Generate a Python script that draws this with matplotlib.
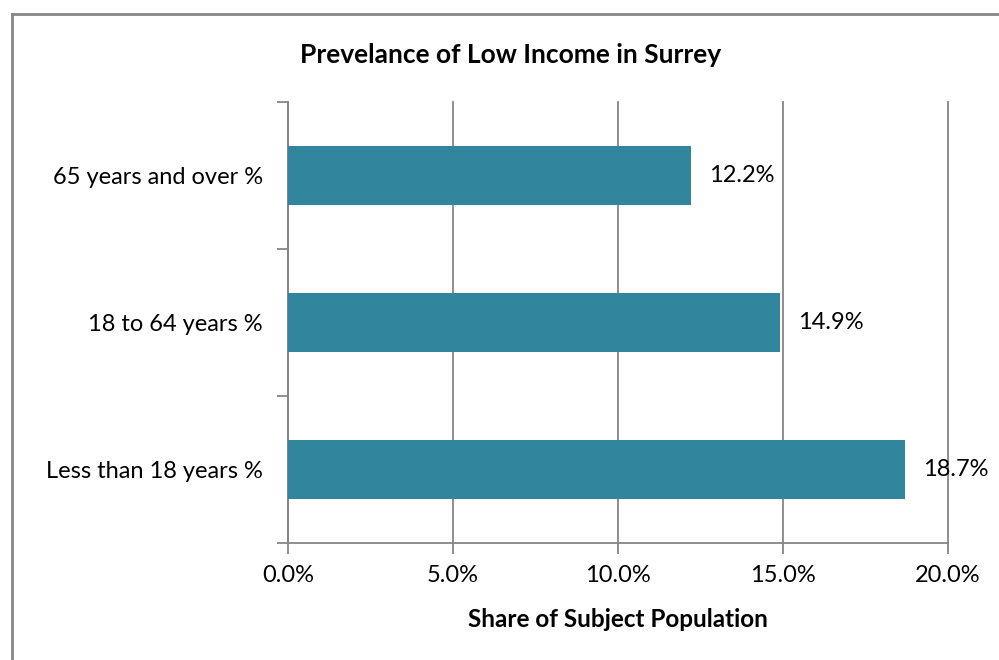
import matplotlib
matplotlib.use("Agg")
import matplotlib.pyplot as plt
from matplotlib.lines import Line2D
import numpy as np

categories = ["Less than 18 years %", "18 to 64 years %", "65 years and over %"]
values = [18.7, 14.9, 12.2]
xticks = [0, 5, 10, 15, 20]
xtick_labels = ["0.0%", "5.0%", "10.0%", "15.0%", "20.0%"]
title = "Prevelance of Low Income in Surrey"
xlabel = "Share of Subject Population"

plt.rcParams['font.family'] = ['Lato', 'DejaVu Sans']
W, H = 999, 660
fig = plt.figure(figsize=(W / 100, H / 100), dpi=100)
grey = "#868686"
bar_color = "#31859C"
fs = 17

# outer chart border (left and top visible)
fig.add_artist(Line2D([11.5 / W, 11.5 / W], [0, 1 - 14 / H], color=grey, lw=2, transform=fig.transFigure))
fig.add_artist(Line2D([11.5 / W, 1], [1 - 14 / H, 1 - 14 / H], color=grey, lw=2, transform=fig.transFigure))

x0, x1 = 288, 948
y0, y1 = 102, 543
ax = fig.add_axes([x0 / W, 1 - y1 / H, (x1 - x0) / W, (y1 - y0) / H])
ypos = np.arange(len(categories))
ax.barh(ypos, values, height=0.4, color=bar_color, zorder=3)
ax.set_xlim(0, 20)
ax.set_ylim(-0.5, len(categories) - 0.5)
ax.set_xticks(xticks)
ax.set_xticklabels(xtick_labels, fontsize=fs)
ax.set_yticks(ypos)
ax.set_yticklabels(categories, fontsize=fs)
ax.set_yticks(np.arange(-0.5, len(categories), 1), minor=True)
ax.tick_params(axis='y', which='major', length=0, pad=18)
ax.tick_params(axis='y', which='minor', length=8, color=grey, width=1.3, direction='out')
ax.tick_params(axis='x', which='major', length=8, color=grey, width=1.3, direction='out', pad=8)
ax.xaxis.grid(True, color=grey, lw=1.3, zorder=0)
for gl in ax.get_xgridlines():
    gl.set_clip_on(False)
for s in ['top', 'right']:
    ax.spines[s].set_visible(False)
for s in ['left', 'bottom']:
    ax.spines[s].set_color(grey)
    ax.spines[s].set_linewidth(1.3)
for y, v in zip(ypos, values):
    ax.annotate(f"{v:.1f}%", (v, y), xytext=(13, 0), textcoords='offset points',
                va='center', ha='left', fontsize=fs, zorder=5)
ax.set_xlabel(xlabel, fontsize=17.5, fontweight='bold', labelpad=16)
fig.text(511 / W, 1 - 55 / H, title, fontsize=19, fontweight='bold', ha='center', va='center')
fig.savefig("out.png", dpi=100)
